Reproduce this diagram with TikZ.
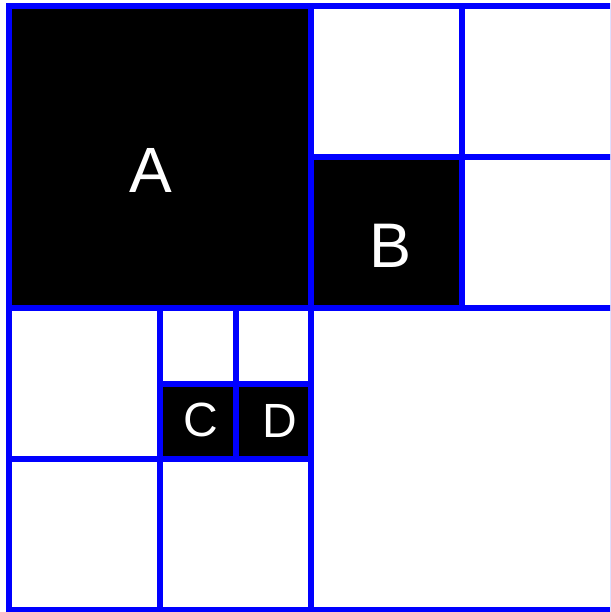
\documentclass[tikz,border=0pt]{standalone}
\usepackage{fontspec}
\setmainfont{Liberation Sans}
\begin{document}
\begin{tikzpicture}[x=1pt,y=-1pt,
  grid/.style={draw=blue,line width=6pt,line cap=rect},
  cell/.style={fill=black},
  lbl/.style={text=white,inner sep=0pt,anchor=center}]
\useasboundingbox (0,0) rectangle (610,612);
\begin{scope}
\clip (0,0) rectangle (610,612);
% black cells
\fill[cell] (9,6) rectangle (311,308);
\fill[cell] (311,157) rectangle (462,308);
\fill[cell] (160,383.5) rectangle (235.5,459);
\fill[cell] (235.5,383.5) rectangle (311,459);
% grid lines
\draw[grid] (9,6) rectangle (613,610);
\draw[grid] (311,6) -- (311,610);
\draw[grid] (9,308) -- (613,308);
\draw[grid] (462,6) -- (462,308);
\draw[grid] (311,157) -- (613,157);
\draw[grid] (160,308) -- (160,610);
\draw[grid] (9,459) -- (311,459);
\draw[grid] (235.5,308) -- (235.5,459);
\draw[grid] (160,383.5) -- (311,383.5);
\end{scope}
% labels
\node[lbl,font=\fontsize{64}{64}\selectfont] (a) at (151,170) {A};
\node[lbl,font=\fontsize{63}{63}\selectfont] (b) at (391,245.5) {B};
\node[lbl,font=\fontsize{48}{48}\selectfont] (c) at (201,420) {C};
\node[lbl,font=\fontsize{48}{48}\selectfont] (d) at (280,420.5) {D};
\end{tikzpicture}
\end{document}
